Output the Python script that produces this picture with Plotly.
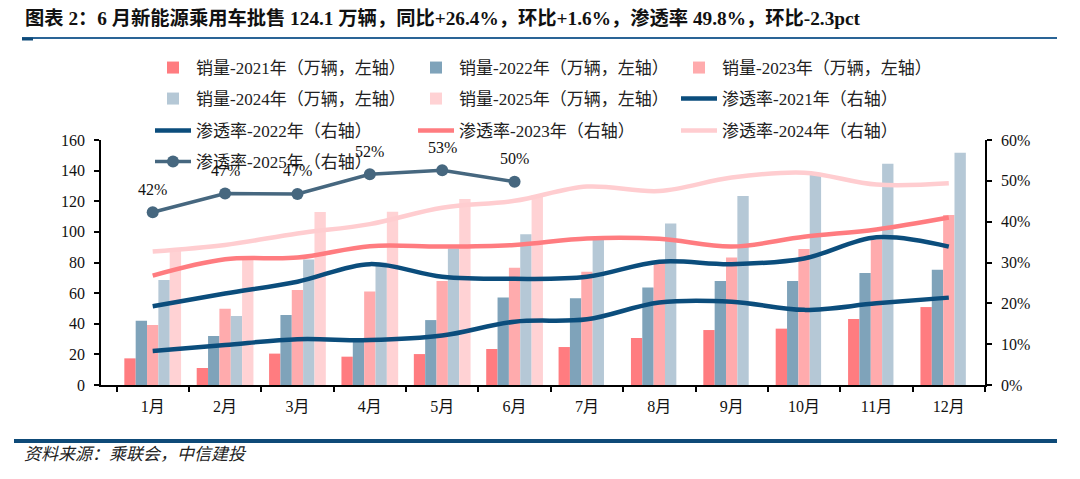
import plotly.graph_objects as go

# ---------------- data ----------------
months = ["1月", "2月", "3月", "4月", "5月", "6月", "7月", "8月", "9月", "10月", "11月", "12月"]

sales_2021 = [17.4, 11.1, 20.5, 18.5, 20.2, 23.5, 24.8, 30.7, 35.9, 36.8, 43.1, 50.9]
sales_2022 = [42.0, 32.0, 45.7, 28.3, 42.4, 57.2, 56.6, 63.6, 67.9, 67.9, 73.1, 75.3]
sales_2023 = [39.2, 49.8, 62.0, 61.0, 67.9, 76.6, 74.0, 80.5, 83.2, 88.8, 95.0, 111.0]
sales_2024 = [68.6, 45.1, 82.0, 80.0, 89.2, 98.4, 94.7, 105.4, 123.4, 137.8, 144.5, 151.7]
sales_2025 = [89.2, 83.0, 113.0, 113.2, 121.5, 124.1, None, None, None, None, None, None]

pen_2021 = [8.3, 9.8, 11.2, 11.0, 12.1, 15.5, 16.1, 20.2, 20.4, 18.4, 20.0, 21.4]
pen_2022 = [19.3, 22.4, 25.3, 29.6, 26.5, 26.0, 26.5, 30.2, 29.6, 31.0, 36.2, 33.9]
pen_2023 = [26.8, 30.8, 31.2, 34.0, 33.9, 34.3, 35.9, 35.8, 33.9, 36.3, 38.1, 41.0]
pen_2024 = [32.7, 34.3, 37.1, 39.4, 43.4, 45.1, 48.6, 47.5, 50.8, 52.0, 49.1, 49.4]
pen_2025 = [42.3, 46.9, 46.8, 51.6, 52.6, 49.8]

bar_names = ["销量-2021年（万辆，左轴）", "销量-2022年（万辆，左轴）", "销量-2023年（万辆，左轴）",
             "销量-2024年（万辆，左轴）", "销量-2025年（万辆，左轴）"]
line_names = ["渗透率-2021年（右轴）", "渗透率-2022年（右轴）", "渗透率-2023年（右轴）",
              "渗透率-2024年（右轴）", "渗透率-2025年（右轴）"]

title_text = "图表 2：6 月新能源乘用车批售 124.1 万辆，同比+26.4%，环比+1.6%，渗透率 49.8%，环比-2.3pct"
source_text = "资料来源：乘联会，中信建投"

# ---------------- style ----------------
FONT = "Liberation Serif, Noto Sans CJK SC"
bar_colors = ["#FF7C80", "#7FA3BA", "#FFABAD", "#B5C8D6", "#FFD2D4"]
line_colors = ["#0B4D7C", "#0B4D7C", "#FF7C80", "#FFCDD0", "#46677F"]
legend_ids = ["legend", "legend", "legend", "legend2", "legend2", "legend2",
              "legend3", "legend3", "legend3", "legend4"]

W, H = 1080, 479
L, R, T, B = 101, 95, 140, 94
PW, PH = W - L - R, H - T - B


def px_x(px):
    return (px - L) / PW


def px_y(py):
    return (H - B - py) / PH


fig = go.Figure()

sales = [sales_2021, sales_2022, sales_2023, sales_2024, sales_2025]
for i, (vals, name, col) in enumerate(zip(sales, bar_names, bar_colors)):
    fig.add_trace(go.Bar(x=months, y=vals, name=name, marker=dict(color=col, line=dict(width=0)),
                         legend=legend_ids[i], yaxis="y"))

pens = [pen_2021, pen_2022, pen_2023, pen_2024]
for i, (vals, name, col) in enumerate(zip(pens, line_names[:4], line_colors[:4])):
    fig.add_trace(go.Scatter(x=months, y=vals, name=name, mode="lines",
                             line=dict(color=col, width=4.5, shape="spline", smoothing=1.0),
                             legend=legend_ids[5 + i], yaxis="y2"))

fig.add_trace(go.Scatter(x=months[:len(pen_2025)], y=pen_2025, name=line_names[4], mode="lines+markers",
                         line=dict(color=line_colors[4], width=3.5),
                         marker=dict(color=line_colors[4], size=12),
                         legend="legend4", yaxis="y2"))

annotations = []
for m, v in zip(months, pen_2025):
    annotations.append(dict(x=m, y=v, xref="x", yref="y2", text=f"{v:.0f}%", showarrow=False,
                            yshift=23, font=dict(family=FONT, size=16, color="#111")))

annotations.append(dict(x=px_x(23), y=px_y(18), xref="paper", yref="paper", xanchor="left", yanchor="middle",
                        text="<b>" + title_text + "</b>", showarrow=False,
                        font=dict(family=FONT, size=19.3, color="#111")))
annotations.append(dict(x=px_x(22), y=px_y(455), xref="paper", yref="paper", xanchor="left", yanchor="middle",
                        text="<i>" + source_text + "</i>", showarrow=False,
                        font=dict(family=FONT, size=17, color="#222")))

shapes = [
    dict(type="line", xref="paper", yref="paper", x0=px_x(22), x1=px_x(1057), y0=px_y(38), y1=px_y(38),
         line=dict(color="#2A6496", width=2)),
    dict(type="line", xref="paper", yref="paper", x0=px_x(22), x1=px_x(33), y0=px_y(39), y1=px_y(39),
         line=dict(color="#0E4A78", width=3)),
    dict(type="line", xref="paper", yref="paper", x0=px_x(14), x1=px_x(1057), y0=px_y(441), y1=px_y(441),
         line=dict(color="#0E4A78", width=4)),
]

legend_font = dict(family=FONT, size=17, color="#222")


def legend_cfg(py):
    return dict(orientation="h", x=px_x(150), y=px_y(py), xanchor="left", yanchor="middle",
                entrywidth=212, entrywidthmode="pixels", bgcolor="rgba(0,0,0,0)",
                font=legend_font, itemwidth=36, traceorder="normal")


axis_font = dict(family=FONT, size=16, color="#111")

fig.update_layout(
    width=W, height=H,
    margin=dict(l=L, r=R, t=T, b=B, autoexpand=False),
    paper_bgcolor="white", plot_bgcolor="white",
    barmode="group", bargap=0.216, bargroupgap=0,
    showlegend=True,
    legend=legend_cfg(68), legend2=legend_cfg(99), legend3=legend_cfg(131), legend4=legend_cfg(162),
    xaxis=dict(type="category", showline=True, linecolor="black", linewidth=1.5, ticks="outside",
               ticklen=5, tickwidth=1.5, tickcolor="black", tickson="boundaries", showgrid=False,
               tickfont=axis_font, ticklabelstandoff=6),
    yaxis=dict(range=[0, 160], dtick=20, showline=True, linecolor="black", linewidth=1.5, ticks="outside",
               ticklen=5, tickwidth=1.5, tickcolor="black", showgrid=False, zeroline=False,
               tickfont=axis_font, ticklabelstandoff=6),
    yaxis2=dict(range=[0, 60], dtick=10, ticksuffix="%", overlaying="y", side="right", showline=True,
                linecolor="black", linewidth=1.5, ticks="outside", ticklen=5, tickwidth=1.5,
                tickcolor="black", showgrid=False, zeroline=False, tickfont=axis_font, ticklabelstandoff=6),
    annotations=annotations, shapes=shapes,
)

fig.write_html("out.html", config={"displayModeBar": False},
               post_script="document.body.style.margin='0px';")
